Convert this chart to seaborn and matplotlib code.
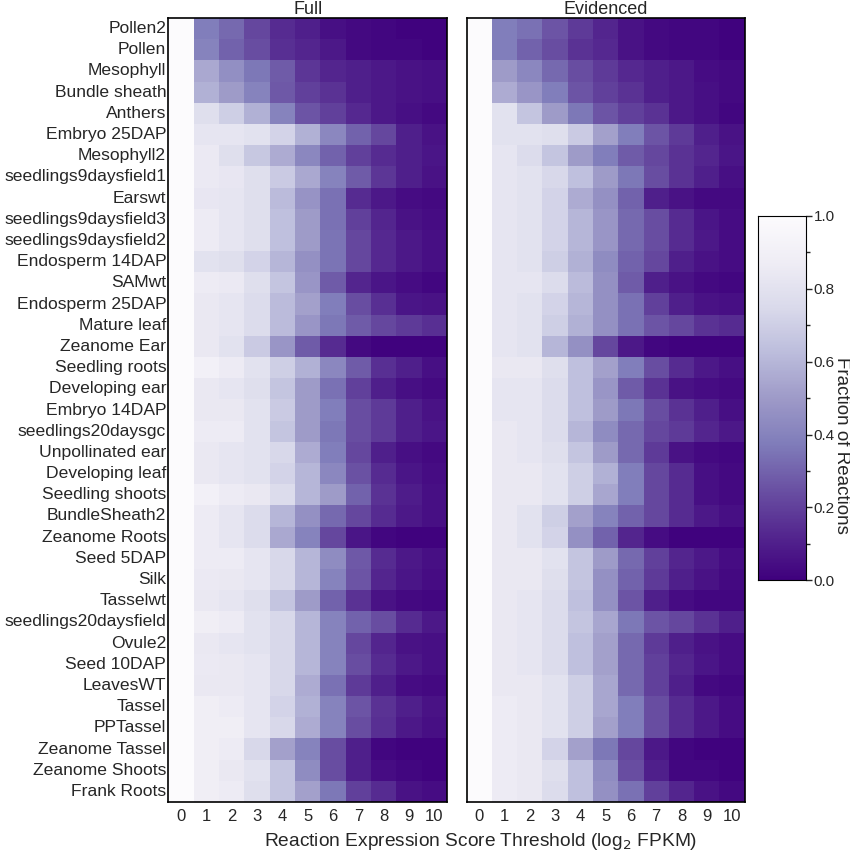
import numpy as np
import pandas as pd
import matplotlib
matplotlib.use("Agg")
import matplotlib.pyplot as plt
from matplotlib.ticker import MultipleLocator
import seaborn as sns

# tissues / samples (top to bottom)
tissues = ['Pollen2', 'Pollen', 'Mesophyll', 'Bundle sheath', 'Anthers', 'Embryo 25DAP',
           'Mesophyll2', 'seedlings9daysfield1', 'Earswt', 'seedlings9daysfield3',
           'seedlings9daysfield2', 'Endosperm 14DAP', 'SAMwt', 'Endosperm 25DAP',
           'Mature leaf', 'Zeanome Ear', 'Seedling roots', 'Developing ear', 'Embryo 14DAP',
           'seedlings20daysgc', 'Unpollinated ear', 'Developing leaf', 'Seedling shoots',
           'BundleSheath2', 'Zeanome Roots', 'Seed 5DAP', 'Silk', 'Tasselwt',
           'seedlings20daysfield', 'Ovule2', 'Seed 10DAP', 'LeavesWT', 'Tassel', 'PPTassel',
           'Zeanome Tassel', 'Zeanome Shoots', 'Frank Roots']
thresholds = list(range(11))

# fraction of reactions above threshold, "Full" model
full_vals = [
    [1.0, 0.38, 0.32, 0.22, 0.14, 0.10, 0.05, 0.03, 0.02, 0.01, 0.01],
    [1.0, 0.40, 0.30, 0.24, 0.15, 0.12, 0.08, 0.03, 0.02, 0.02, 0.01],
    [1.0, 0.55, 0.45, 0.36, 0.28, 0.17, 0.12, 0.10, 0.08, 0.06, 0.05],
    [1.0, 0.58, 0.50, 0.40, 0.27, 0.20, 0.16, 0.10, 0.08, 0.06, 0.05],
    [1.0, 0.78, 0.70, 0.58, 0.40, 0.26, 0.20, 0.13, 0.08, 0.05, 0.03],
    [1.0, 0.82, 0.82, 0.80, 0.72, 0.58, 0.42, 0.30, 0.22, 0.10, 0.06],
    [1.0, 0.85, 0.78, 0.67, 0.56, 0.42, 0.30, 0.20, 0.14, 0.10, 0.07],
    [1.0, 0.85, 0.83, 0.78, 0.68, 0.55, 0.40, 0.28, 0.17, 0.10, 0.06],
    [1.0, 0.83, 0.82, 0.78, 0.62, 0.47, 0.34, 0.14, 0.08, 0.04, 0.03],
    [1.0, 0.86, 0.82, 0.78, 0.64, 0.50, 0.34, 0.20, 0.12, 0.06, 0.04],
    [1.0, 0.86, 0.82, 0.78, 0.64, 0.50, 0.35, 0.22, 0.13, 0.08, 0.05],
    [1.0, 0.80, 0.78, 0.72, 0.60, 0.46, 0.35, 0.22, 0.13, 0.08, 0.05],
    [1.0, 0.86, 0.85, 0.78, 0.66, 0.48, 0.28, 0.12, 0.07, 0.04, 0.02],
    [1.0, 0.84, 0.82, 0.76, 0.62, 0.52, 0.38, 0.24, 0.15, 0.07, 0.06],
    [1.0, 0.84, 0.82, 0.76, 0.62, 0.48, 0.36, 0.28, 0.22, 0.18, 0.15],
    [1.0, 0.84, 0.80, 0.68, 0.48, 0.28, 0.14, 0.03, 0.01, 0.01, 0.01],
    [1.0, 0.90, 0.86, 0.80, 0.70, 0.58, 0.42, 0.28, 0.15, 0.10, 0.05],
    [1.0, 0.84, 0.82, 0.78, 0.66, 0.50, 0.34, 0.20, 0.10, 0.05, 0.03],
    [1.0, 0.84, 0.84, 0.80, 0.68, 0.50, 0.38, 0.24, 0.18, 0.10, 0.06],
    [1.0, 0.86, 0.86, 0.80, 0.66, 0.50, 0.36, 0.24, 0.18, 0.10, 0.07],
    [1.0, 0.84, 0.82, 0.80, 0.74, 0.56, 0.38, 0.22, 0.10, 0.05, 0.03],
    [1.0, 0.84, 0.82, 0.80, 0.72, 0.60, 0.42, 0.25, 0.14, 0.07, 0.04],
    [1.0, 0.90, 0.86, 0.84, 0.76, 0.60, 0.50, 0.30, 0.16, 0.09, 0.05],
    [1.0, 0.86, 0.82, 0.76, 0.60, 0.46, 0.32, 0.22, 0.14, 0.08, 0.05],
    [1.0, 0.86, 0.82, 0.76, 0.55, 0.40, 0.22, 0.07, 0.02, 0.01, 0.01],
    [1.0, 0.86, 0.86, 0.82, 0.74, 0.60, 0.44, 0.27, 0.14, 0.08, 0.05],
    [1.0, 0.85, 0.84, 0.82, 0.74, 0.60, 0.40, 0.26, 0.12, 0.07, 0.04],
    [1.0, 0.84, 0.82, 0.78, 0.66, 0.50, 0.30, 0.16, 0.06, 0.03, 0.02],
    [1.0, 0.88, 0.86, 0.80, 0.74, 0.60, 0.40, 0.30, 0.24, 0.14, 0.08],
    [1.0, 0.84, 0.82, 0.80, 0.74, 0.60, 0.40, 0.22, 0.12, 0.06, 0.05],
    [1.0, 0.85, 0.84, 0.82, 0.74, 0.60, 0.40, 0.24, 0.14, 0.08, 0.05],
    [1.0, 0.84, 0.84, 0.82, 0.74, 0.56, 0.34, 0.18, 0.10, 0.04, 0.03],
    [1.0, 0.88, 0.86, 0.82, 0.72, 0.58, 0.40, 0.26, 0.16, 0.10, 0.06],
    [1.0, 0.88, 0.88, 0.82, 0.74, 0.56, 0.40, 0.24, 0.15, 0.08, 0.05],
    [1.0, 0.88, 0.86, 0.74, 0.52, 0.40, 0.24, 0.10, 0.02, 0.01, 0.01],
    [1.0, 0.88, 0.84, 0.80, 0.66, 0.44, 0.24, 0.10, 0.04, 0.02, 0.01],
    [1.0, 0.88, 0.86, 0.78, 0.66, 0.52, 0.36, 0.20, 0.14, 0.06, 0.04],
]

# "Evidenced" reactions only
evidenced_vals = [
    [1.0, 0.38, 0.34, 0.26, 0.18, 0.12, 0.06, 0.03, 0.02, 0.02, 0.01],
    [1.0, 0.38, 0.30, 0.24, 0.16, 0.13, 0.06, 0.03, 0.02, 0.02, 0.01],
    [1.0, 0.50, 0.42, 0.32, 0.24, 0.18, 0.13, 0.10, 0.08, 0.04, 0.03],
    [1.0, 0.56, 0.48, 0.38, 0.26, 0.20, 0.16, 0.10, 0.08, 0.05, 0.03],
    [1.0, 0.80, 0.66, 0.50, 0.36, 0.26, 0.20, 0.16, 0.08, 0.05, 0.02],
    [1.0, 0.80, 0.80, 0.78, 0.68, 0.52, 0.38, 0.26, 0.18, 0.10, 0.06],
    [1.0, 0.82, 0.76, 0.66, 0.50, 0.38, 0.28, 0.22, 0.16, 0.12, 0.07],
    [1.0, 0.82, 0.80, 0.74, 0.64, 0.50, 0.36, 0.24, 0.16, 0.10, 0.05],
    [1.0, 0.82, 0.80, 0.72, 0.56, 0.46, 0.30, 0.10, 0.06, 0.03, 0.03],
    [1.0, 0.82, 0.80, 0.72, 0.60, 0.48, 0.32, 0.24, 0.14, 0.07, 0.04],
    [1.0, 0.82, 0.80, 0.72, 0.60, 0.48, 0.32, 0.24, 0.14, 0.08, 0.04],
    [1.0, 0.82, 0.80, 0.70, 0.58, 0.44, 0.30, 0.22, 0.10, 0.06, 0.04],
    [1.0, 0.82, 0.82, 0.76, 0.62, 0.46, 0.28, 0.10, 0.06, 0.03, 0.02],
    [1.0, 0.82, 0.80, 0.72, 0.60, 0.46, 0.34, 0.20, 0.10, 0.06, 0.05],
    [1.0, 0.82, 0.80, 0.70, 0.58, 0.46, 0.34, 0.26, 0.22, 0.16, 0.14],
    [1.0, 0.82, 0.80, 0.60, 0.46, 0.22, 0.08, 0.02, 0.01, 0.01, 0.01],
    [1.0, 0.84, 0.84, 0.78, 0.64, 0.52, 0.38, 0.24, 0.14, 0.08, 0.05],
    [1.0, 0.82, 0.82, 0.76, 0.64, 0.48, 0.28, 0.16, 0.06, 0.04, 0.03],
    [1.0, 0.82, 0.82, 0.76, 0.64, 0.50, 0.36, 0.24, 0.16, 0.10, 0.05],
    [1.0, 0.84, 0.82, 0.76, 0.60, 0.44, 0.32, 0.22, 0.18, 0.12, 0.08],
    [1.0, 0.84, 0.82, 0.78, 0.66, 0.50, 0.32, 0.18, 0.06, 0.03, 0.02],
    [1.0, 0.84, 0.84, 0.80, 0.70, 0.58, 0.38, 0.22, 0.14, 0.05, 0.03],
    [1.0, 0.84, 0.84, 0.80, 0.70, 0.54, 0.38, 0.22, 0.14, 0.05, 0.03],
    [1.0, 0.84, 0.80, 0.70, 0.52, 0.40, 0.30, 0.22, 0.14, 0.08, 0.05],
    [1.0, 0.84, 0.80, 0.72, 0.46, 0.30, 0.12, 0.04, 0.01, 0.01, 0.01],
    [1.0, 0.84, 0.84, 0.80, 0.66, 0.50, 0.32, 0.20, 0.12, 0.08, 0.04],
    [1.0, 0.84, 0.84, 0.78, 0.66, 0.46, 0.30, 0.18, 0.10, 0.06, 0.03],
    [1.0, 0.84, 0.82, 0.76, 0.64, 0.46, 0.26, 0.10, 0.04, 0.02, 0.02],
    [1.0, 0.84, 0.82, 0.76, 0.66, 0.54, 0.36, 0.26, 0.22, 0.16, 0.10],
    [1.0, 0.84, 0.82, 0.76, 0.64, 0.52, 0.32, 0.18, 0.10, 0.06, 0.04],
    [1.0, 0.84, 0.82, 0.76, 0.64, 0.52, 0.32, 0.20, 0.12, 0.07, 0.04],
    [1.0, 0.84, 0.84, 0.80, 0.70, 0.54, 0.32, 0.20, 0.10, 0.03, 0.02],
    [1.0, 0.86, 0.84, 0.80, 0.70, 0.54, 0.38, 0.24, 0.14, 0.08, 0.04],
    [1.0, 0.86, 0.84, 0.80, 0.70, 0.52, 0.38, 0.24, 0.14, 0.08, 0.04],
    [1.0, 0.86, 0.84, 0.72, 0.52, 0.36, 0.22, 0.08, 0.02, 0.01, 0.01],
    [1.0, 0.86, 0.84, 0.78, 0.64, 0.44, 0.24, 0.10, 0.02, 0.02, 0.01],
    [1.0, 0.86, 0.84, 0.76, 0.64, 0.46, 0.34, 0.20, 0.12, 0.06, 0.03],
]

sns.set_style("white")
plt.rcParams['font.family'] = ['Liberation Sans', 'DejaVu Sans']

full_df = pd.DataFrame(full_vals, index=tissues, columns=thresholds)
evid_df = pd.DataFrame(evidenced_vals, index=tissues, columns=thresholds)

fig = plt.figure(figsize=(8.5, 8.56), dpi=100)
ax1 = fig.add_axes([0.198, 0.063, 0.328, 0.916])
ax2 = fig.add_axes([0.549, 0.063, 0.327, 0.916])
cax = fig.add_axes([0.892, 0.322, 0.056, 0.426])

sns.heatmap(full_df, ax=ax1, cmap='Purples_r', vmin=0, vmax=1, cbar=False)
sns.heatmap(evid_df, ax=ax2, cmap='Purples_r', vmin=0, vmax=1, cbar_ax=cax)

for ax, title in [(ax1, 'Full'), (ax2, 'Evidenced')]:
    ax.set_title(title, fontsize=13, pad=3)
    ax.set_xticklabels(thresholds, rotation=0, fontsize=12)
    ax.tick_params(axis='x', length=0, pad=5)
    ax.tick_params(axis='y', length=0, pad=1.5)
    for s in ax.spines.values():
        s.set_visible(True)
        s.set_color('black')
        s.set_linewidth(1.2)
ax1.set_yticklabels(tissues, rotation=0, fontsize=12.6)
ax2.set_yticks([])

fig.text(0.566, 0.012, 'Reaction Expression Score Threshold (log$_2$ FPKM)',
         ha='center', fontsize=13.8)

cax.yaxis.set_minor_locator(MultipleLocator(0.1))
cax.tick_params(which='major', length=4, width=1, labelsize=11, direction='out', pad=1.5)
cax.tick_params(which='minor', length=3, width=1, direction='out')
for s in cax.spines.values():
    s.set_visible(True)
    s.set_color('black')
# colorbar label, sits close to the tick labels like the original
fig.text(0.9905, 0.48, 'Fraction of Reactions', rotation=270, ha='center',
         va='center', fontsize=13.5)

fig.savefig('out.png', dpi=100)
